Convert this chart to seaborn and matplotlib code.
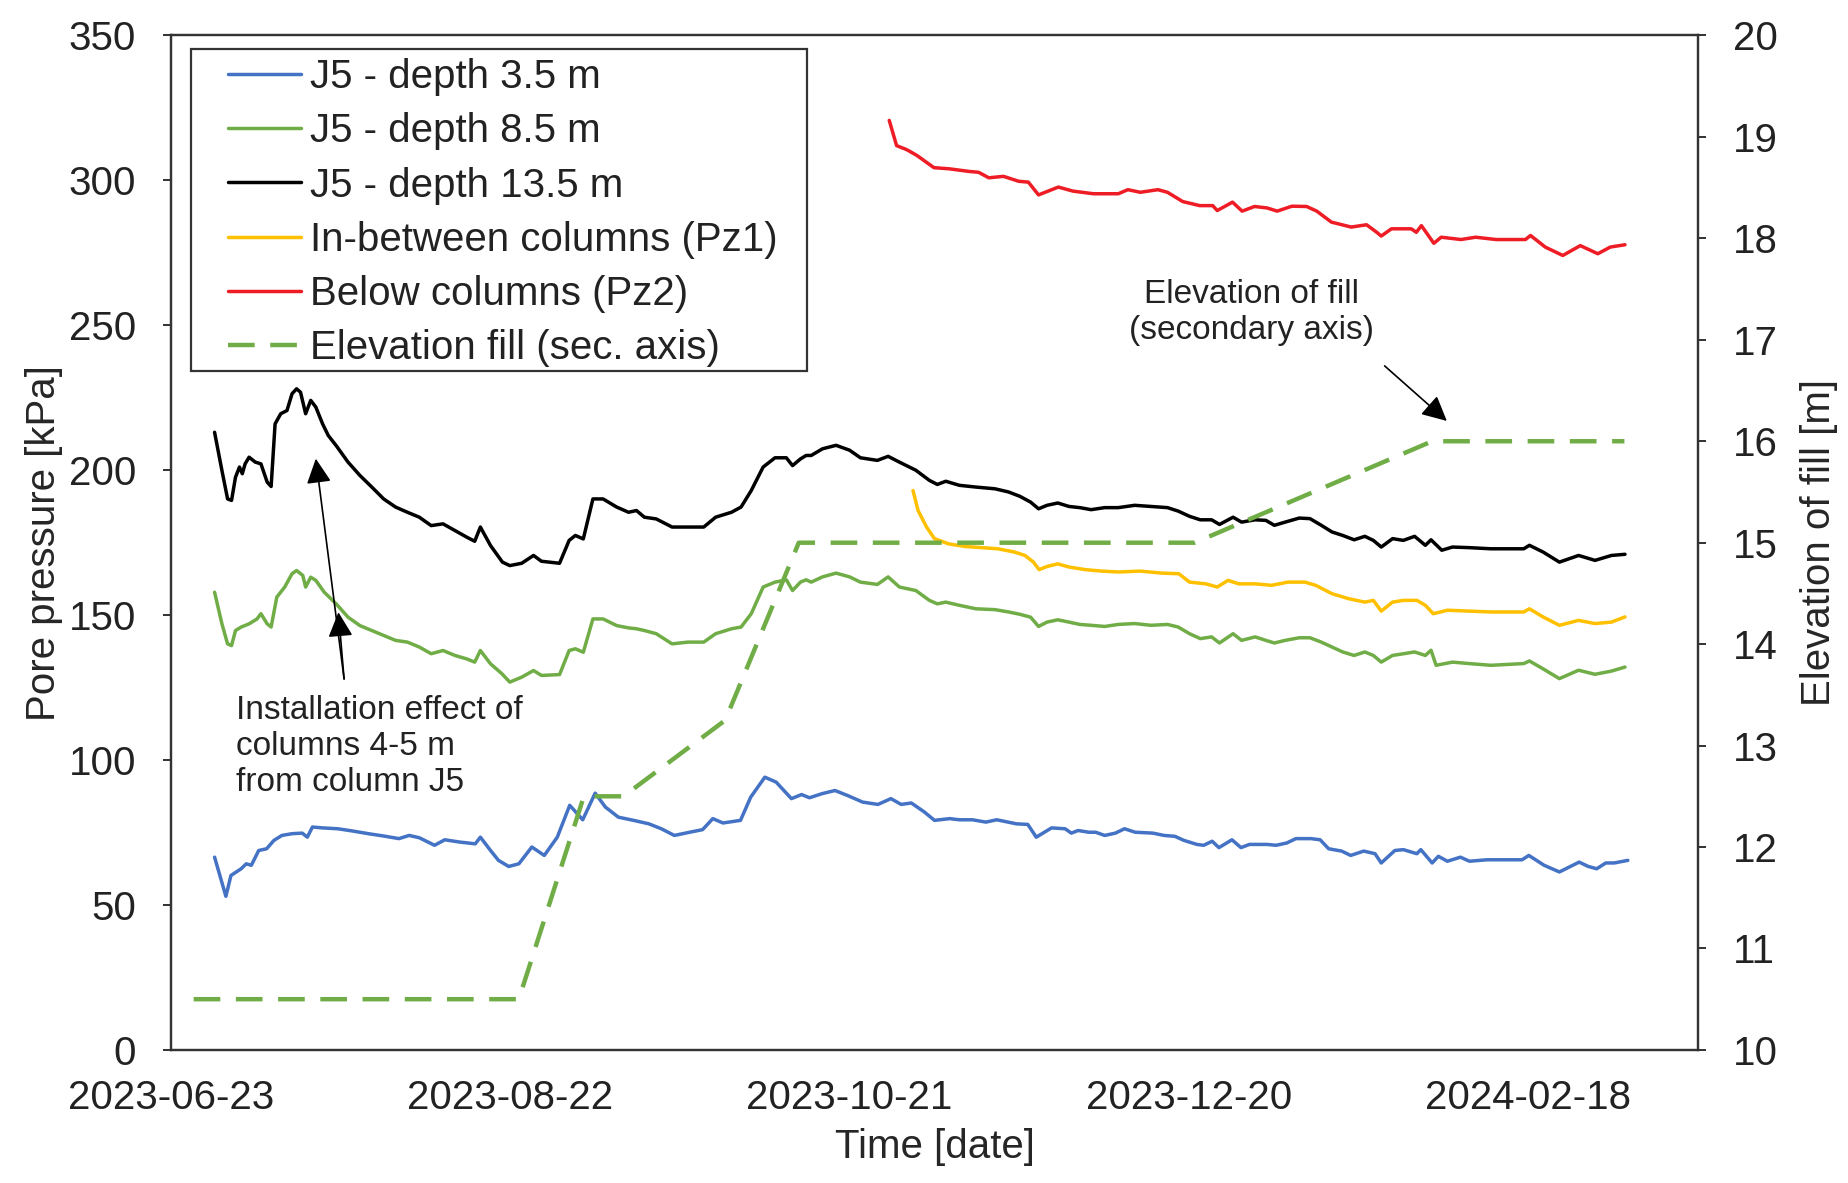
import numpy as np
import pandas as pd
import matplotlib
matplotlib.use("Agg")
import matplotlib.pyplot as plt
import matplotlib.dates as mdates
from matplotlib.lines import Line2D
from matplotlib.patches import Rectangle
import seaborn as sns

# ---- data -------------------------------------------------------------
start_date = pd.Timestamp("2023-06-23")

# J5 - depth 13.5 m (days since start, kPa)
j5_135_days = [7.7, 9.0, 10.0, 10.7, 11.4, 12.1, 12.6, 13.1, 13.8, 14.9, 15.9, 17.0, 17.7,
               18.4, 19.4, 20.5, 21.4, 22.2, 22.9, 23.8, 24.7, 25.6, 26.8, 27.8, 29.2, 31.3,
               33.4, 35.5, 37.6, 39.7, 41.8, 43.9, 46.0, 48.1, 50.2, 52.3, 53.7, 54.7, 56.5,
               58.6, 59.9, 62.0, 64.1, 65.5, 68.7, 70.4, 71.5, 72.9, 74.6, 76.4, 78.8, 80.9,
               82.3, 83.7, 85.8, 88.6, 91.4, 94.2, 96.3, 99.1, 100.8, 102.6, 104.7, 106.8,
               108.8, 109.9, 111.3, 112.3,
               113.2, 115.2, 117.6, 120.0, 121.9, 124.9, 126.8, 128.8, 131.7, 134.1, 135.5,
               137.0, 139.4, 142.3, 145.7, 148.1, 150.1, 152.0, 153.4, 154.9, 156.8, 158.8,
               160.7, 162.7, 165.1, 167.5, 170.4, 173.3, 176.2, 178.1, 180.1, 182.0, 184.0,
               185.4, 187.8, 189.3, 191.7, 193.6, 195.1, 197.0, 199.5, 201.4, 203.4, 205.3,
               207.2, 209.2, 211.1, 212.6, 214.0, 216.0, 217.9, 219.9, 221.8, 222.8, 224.7,
               226.6, 229.5, 233.4, 239.2, 240.2, 242.6, 245.5, 248.9, 251.8, 254.7, 257.1]
j5_135_kpa = [213.1, 199.9, 190.1, 189.6, 197.6, 201.1, 198.8, 202.2, 204.5, 202.8, 202.2, 195.9, 194.4,
              216.0, 219.5, 220.6, 226.4, 228.1, 226.9, 219.5, 224.1, 221.8, 216.0, 212.0, 208.5, 202.8,
              198.2, 194.2, 190.1, 187.3, 185.5, 183.8, 180.9, 181.5, 179.2, 176.9, 175.5, 180.4, 174.0,
              168.3, 167.1, 167.9, 170.6, 168.6, 167.9, 175.8, 177.5, 176.3, 190.1, 190.1, 187.3, 185.5,
              186.1, 183.8, 183.2, 180.4, 180.4, 180.4, 183.8, 185.5, 187.3, 193.0, 201.1, 204.3,
              204.3, 201.6, 203.9, 205.1,
              205.1, 207.4, 208.6, 206.9, 204.3, 203.4, 204.8, 202.8, 200.0, 196.5, 195.1,
              196.2, 194.8, 194.2, 193.6, 192.5, 191.0, 189.0, 186.7, 187.9, 188.7, 187.5,
              187.1, 186.4, 187.1, 187.1, 187.9, 187.5, 187.1, 185.9, 184.1, 182.9, 182.9,
              181.3, 183.8, 182.1, 182.9, 182.7, 181.0, 182.1, 183.5, 183.3, 181.0, 178.7,
              177.5, 176.0, 177.2, 175.8, 173.5, 176.4, 175.8, 177.2, 174.1, 176.0, 172.4,
              173.5, 173.3, 172.9, 172.9, 174.1, 171.8, 168.3, 170.6, 168.9, 170.6, 171.0]

# J5 - depth 8.5 m
j5_85_days = [7.7, 9.0, 10.0, 10.7, 11.4, 12.4, 13.8, 15.2, 15.9, 17.0, 17.7, 18.7, 20.1, 21.4,
              22.2, 23.3, 23.8, 24.7, 25.6, 27.1, 29.2, 31.3, 33.4, 35.5, 37.6, 39.7, 41.8, 43.9,
              46.0, 48.1, 50.2, 52.3, 53.7, 54.7, 56.5, 58.5, 59.9, 62.0, 64.1, 65.5, 68.7, 70.4,
              71.5, 72.9, 74.6, 76.4, 78.8, 80.9, 82.3, 83.7, 85.8, 88.6, 91.4, 94.2, 96.3, 99.1,
              100.8, 102.6, 104.7, 106.8, 108.8, 109.9, 111.3, 112.3,
              113.2, 115.2, 117.6, 120.0, 121.9, 124.9, 126.8, 128.8, 131.7, 134.1, 135.5,
              137.0, 139.4, 142.3, 145.7, 148.1, 150.1, 152.0, 153.4, 154.9, 156.8, 158.8,
              160.7, 162.7, 165.1, 167.5, 170.4, 173.3, 176.2, 178.1, 180.1, 182.0, 184.0,
              185.4, 187.8, 189.3, 191.7, 193.6, 195.1, 197.0, 199.5, 201.4, 203.4, 205.3,
              207.2, 209.2, 211.1, 212.6, 214.0, 216.0, 217.9, 219.9, 221.8, 222.8, 223.7,
              226.6, 229.5, 233.4, 239.2, 240.2, 242.6, 245.5, 248.9, 251.8, 254.7, 257.1]
j5_85_kpa = [157.9, 147.0, 140.1, 139.5, 144.7, 145.9, 147.0, 148.7, 150.5, 147.0, 145.9, 156.2, 159.7, 164.3,
             165.4, 163.7, 159.7, 163.1, 162.0, 157.9, 153.9, 149.3, 146.4, 144.7, 143.0, 141.3, 140.7, 139.0,
             136.7, 137.8, 136.1, 134.9, 133.8, 137.8, 133.2, 129.8, 126.9, 128.6, 130.9, 129.2, 129.5, 137.8,
             138.4, 137.2, 148.7, 148.7, 146.4, 145.6, 145.3, 144.7, 143.6, 140.1, 140.7, 140.7, 143.6, 145.3,
             145.9, 150.5, 159.7, 161.4, 162.2, 158.5, 161.4, 162.2,
             161.4, 163.2, 164.5, 163.2, 161.4, 160.6, 163.2, 159.7, 158.5, 155.1, 153.9,
             154.5, 153.4, 152.2, 151.9, 151.1, 150.3, 149.3, 146.1, 147.6, 148.4, 147.6,
             146.8, 146.5, 146.1, 146.8, 147.1, 146.5, 146.8, 145.9, 143.6, 141.9, 142.5,
             140.4, 143.6, 141.3, 142.5, 141.3, 140.4, 141.3, 142.2, 142.2, 140.7, 139.0,
             137.3, 136.1, 137.3, 136.1, 133.8, 136.1, 136.7, 137.3, 136.1, 137.9, 132.7,
             133.8, 133.3, 132.7, 133.3, 134.2, 131.5, 128.1, 131.0, 129.6, 130.7, 132.1]

# J5 - depth 3.5 m
j5_35_days = [7.7, 9.7, 10.6, 12.4, 13.3, 14.2, 15.5, 16.9, 18.2, 19.6, 21.4, 23.2, 24.1, 25.0,
              26.8, 29.5, 32.2, 34.9, 37.6, 40.3, 42.1, 43.9, 46.6, 48.4, 51.1, 53.8, 54.7, 56.5,
              57.9, 59.7, 61.5, 63.8, 66.0, 68.3, 70.5, 72.8, 75.0, 76.8, 79.1, 81.8, 84.5, 86.7,
              89.0, 91.7, 94.0, 95.8, 97.6, 100.7, 102.5, 105.0, 107.0, 109.7, 111.5, 112.9,
              115.1, 117.4, 119.6, 122.3, 125.0, 127.3, 129.1, 130.9, 133.2, 135.0, 137.7,
              139.4, 141.7, 144.1, 146.0, 148.0, 149.5, 151.5, 153.0, 155.7, 158.1, 159.2,
              160.4, 162.3, 163.5, 165.1, 167.0, 168.6, 170.5, 173.6, 175.6, 177.5, 179.1,
              181.4, 182.6, 184.1, 185.3, 187.6, 189.2, 190.7, 193.8, 195.4, 197.3, 198.9,
              201.6, 203.2, 204.7, 207.0, 208.6, 210.9, 212.9, 214.0, 216.4, 217.9, 220.3,
              221.0, 223.0, 224.1, 225.7, 228.0, 229.6, 232.7, 236.6, 238.9, 240.1, 242.8,
              245.5, 249.0, 250.6, 252.1, 253.7, 255.2, 257.6]
j5_35_kpa = [66.5, 53.0, 60.2, 62.5, 64.2, 63.7, 68.8, 69.4, 72.3, 74.0, 74.6, 74.8, 73.4, 76.9,
             76.6, 76.3, 75.5, 74.6, 73.8, 72.9, 74.0, 73.2, 70.6, 72.5, 71.7, 71.1, 73.4, 68.8,
             65.4, 63.3, 64.2, 70.0, 67.1, 73.4, 84.4, 79.4, 88.6, 83.8, 80.3, 79.2, 78.0, 76.3,
             74.0, 75.1, 76.0, 79.8, 78.3, 79.2, 87.2, 94.1, 92.4, 86.7, 88.1, 87.0,
             88.4, 89.5, 87.8, 85.5, 84.7, 86.7, 84.7, 85.2, 82.1, 79.2, 79.8,
             79.4, 79.4, 78.6, 79.4, 78.6, 78.0, 77.8, 73.4, 76.6, 76.3, 74.8,
             75.7, 75.1, 75.1, 74.0, 74.8, 76.3, 75.1, 74.8, 74.0, 73.7, 72.3,
             70.9, 70.6, 72.0, 69.8, 72.5, 69.8, 70.9, 70.9, 70.6, 71.4, 72.9,
             72.9, 72.5, 69.4, 68.6, 67.1, 68.6, 67.7, 64.5, 68.8, 69.1, 67.7,
             69.1, 64.5, 66.8, 65.1, 66.5, 65.1, 65.6, 65.6, 65.6, 67.1, 63.7,
             61.4, 64.8, 63.3, 62.5, 64.5, 64.5, 65.4]

# In-between columns (Pz1)
pz1_days = [131.2, 132.1, 133.6, 135.0, 137.5, 140.4, 143.3, 146.2, 149.1, 151.0, 152.5, 153.5,
            154.9, 156.8, 158.8, 161.7, 164.6, 167.5, 171.4, 175.3, 178.2, 180.1, 183.0, 185.0,
            186.9, 188.8, 191.7, 194.6, 197.5, 200.5, 202.4, 205.3, 208.2, 211.1, 212.6, 214.0,
            216.0, 217.9, 220.3, 221.8, 223.2, 225.7, 229.5, 233.4, 239.2, 240.2, 242.6, 245.5,
            248.9, 251.8, 254.7, 257.1]
pz1_kpa = [193.0, 186.1, 180.4, 176.4, 174.6, 173.7, 173.3, 172.9, 171.8, 170.6, 168.3, 165.7,
           166.8, 167.7, 166.6, 165.7, 165.2, 164.9, 165.2, 164.5, 164.3, 161.4, 160.8, 159.7,
           162.0, 160.8, 160.8, 160.3, 161.4, 161.4, 160.3, 157.4, 155.7, 154.5, 155.1, 151.4,
           154.5, 155.1, 155.1, 153.4, 150.5, 151.7, 151.4, 151.1, 151.1, 152.2, 149.4, 146.5,
           148.2, 147.1, 147.6, 149.4]

# Below columns (Pz2)
pz2_days = [127.0, 128.3, 130.1, 131.9, 134.9, 137.6, 141.1, 142.8, 144.6, 147.2, 149.9, 151.6,
            153.4, 156.9, 159.5, 163.1, 167.5, 169.2, 171.4, 174.5, 176.2, 178.9, 181.9, 184.2,
            185.0, 187.7, 189.4, 191.6, 193.8, 195.6, 198.2, 200.8, 202.6, 205.2, 208.7, 211.4,
            213.2, 214.0, 215.8, 219.3, 220.2, 221.1, 223.3, 224.6, 228.1, 230.7, 234.3, 239.5,
            240.4, 243.0, 246.1, 249.2, 252.3, 254.5, 257.1]
pz2_kpa = [320.7, 312.0, 310.6, 308.6, 304.4, 304.0, 303.1, 302.8, 300.9, 301.4, 299.7, 299.4,
           295.0, 297.7, 296.3, 295.4, 295.4, 296.8, 295.9, 296.8, 295.9, 292.7, 291.3, 291.3,
           289.6, 292.5, 289.4, 291.0, 290.5, 289.4, 291.1, 291.0, 289.4, 285.6, 283.9, 284.7,
           282.1, 280.8, 283.3, 283.3, 282.1, 284.4, 278.3, 280.4, 279.6, 280.4, 279.6, 279.6,
           281.0, 277.0, 274.1, 277.5, 274.7, 277.0, 277.8]

# Elevation of fill (m), secondary axis
fill_days = [4, 61.5, 73, 80, 98, 111, 181, 223, 257]
fill_elev = [10.5, 10.5, 12.5, 12.5, 13.25, 15.0, 15.0, 16.0, 16.0]

x_ticks = ["2023-06-23", "2023-08-22", "2023-10-21", "2023-12-20", "2024-02-18"]

series_names = ["J5 - depth 3.5 m", "J5 - depth 8.5 m", "J5 - depth 13.5 m",
                "In-between columns (Pz1)", "Below columns (Pz2)"]
fill_name = "Elevation fill (sec. axis)"

colors = {
    "J5 - depth 3.5 m": "#4472C4",
    "J5 - depth 8.5 m": "#70AD47",
    "J5 - depth 13.5 m": "#000000",
    "In-between columns (Pz1)": "#FFC000",
    "Below columns (Pz2)": "#EE1C25",
}
fill_color = "#70AD47"


def to_dates(days):
    return start_date + pd.to_timedelta(np.asarray(days, dtype=float), unit="D")


frames = []
for name, d, v in [(series_names[0], j5_35_days, j5_35_kpa),
                   (series_names[1], j5_85_days, j5_85_kpa),
                   (series_names[2], j5_135_days, j5_135_kpa),
                   (series_names[3], pz1_days, pz1_kpa),
                   (series_names[4], pz2_days, pz2_kpa)]:
    frames.append(pd.DataFrame({"date": to_dates(d), "kpa": v, "series": name}))
pressure = pd.concat(frames, ignore_index=True)
fill_df = pd.DataFrame({"date": to_dates(fill_days), "elev": fill_elev})

# ---- figure -----------------------------------------------------------
sns.set_theme(style="white")
plt.rcParams["font.family"] = ["Liberation Sans", "DejaVu Sans"]
plt.rcParams["text.color"] = "#222222"

fig = plt.figure(figsize=(18.49, 11.83), dpi=100)
ax = fig.add_axes([0.0925, 0.1125, 0.8258, 0.8575])

line_w = 2.5
sns.lineplot(data=pressure, x="date", y="kpa", hue="series",
             hue_order=series_names, palette=colors, linewidth=line_w,
             ax=ax, legend=False, estimator=None, sort=True)

ax2 = ax.twinx()
sns.lineplot(data=fill_df, x="date", y="elev", color=fill_color, linewidth=3.2,
             ax=ax2, legend=False, estimator=None)
ax2.lines[0].set_dashes((6, 3.5))

# axes limits and ticks
ax.set_xlim(start_date, start_date + pd.Timedelta(days=270))
ax.set_ylim(0, 350)
ax.set_yticks(range(0, 351, 50))
ax2.set_ylim(10, 20)
ax2.set_yticks(range(10, 21, 1))
ax.set_xticks(pd.to_datetime(x_ticks))
ax.xaxis.set_major_formatter(mdates.DateFormatter("%Y-%m-%d"))

fs = 29
ax.tick_params(axis="x", direction="in", length=10, width=1.3, labelsize=fs,
               pad=21, colors="#222222")
ax.tick_params(axis="y", direction="out", length=6, width=1.3, labelsize=fs,
               pad=19, colors="#222222")
ax2.tick_params(axis="y", direction="out", length=6, width=1.3, labelsize=fs,
                pad=19, colors="#222222")

for a in (ax, ax2):
    for s in a.spines.values():
        s.set_color("#333333")
        s.set_linewidth(1.6)
        s.set_visible(True)

ax.set_xlabel("Time [date]", fontsize=fs, labelpad=8)
ax.set_ylabel("Pore pressure [kPa]", fontsize=fs, labelpad=4)
ax2.set_ylabel("Elevation of fill [m]", fontsize=fs, labelpad=16)

# legend with a square frame
box_x0, box_x1, box_y0, box_y1 = 0.1033, 0.4365, 0.6864, 0.9582
frame = Rectangle((box_x0, box_y0), box_x1 - box_x0, box_y1 - box_y0,
                  transform=fig.transFigure, facecolor="white",
                  edgecolor="#333333", linewidth=1.6, zorder=9, clip_on=False)
ax2.add_patch(frame)

handles = [Line2D([0], [0], color=colors[n], lw=line_w) for n in series_names]
fill_handle = Line2D([0], [0], color=fill_color, lw=3.2)
fill_handle.set_dashes((6, 3.5))
handles.append(fill_handle)
leg = ax2.legend(handles, series_names + [fill_name], loc="center",
                 bbox_to_anchor=((box_x0 + box_x1) / 2 + 0.002,
                                 (box_y0 + box_y1) / 2 - 0.002),
                 bbox_transform=fig.transFigure, fontsize=fs, frameon=False,
                 handlelength=1.8, handletextpad=0.23, labelspacing=0.40,
                 borderpad=0.0)
leg.set_zorder(10)

# annotations
arrow = dict(arrowstyle="-|>", color="black", lw=1.2, mutation_scale=38,
             shrinkA=0, shrinkB=0)
src = (start_date + pd.Timedelta(days=30.6), 128)
ax.annotate("", xy=(start_date + pd.Timedelta(days=25.6), 204), xytext=src,
            arrowprops=arrow)
ax.annotate("", xy=(start_date + pd.Timedelta(days=29.6), 151), xytext=src,
            arrowprops=arrow)
ax.text(start_date + pd.Timedelta(days=11.5), 122.5,
        "Installation effect of\ncolumns 4-5 m\nfrom column J5",
        fontsize=24, va="top", ha="left", linespacing=1.22, color="#222222")

ax.annotate("", xy=(start_date + pd.Timedelta(days=225.6), 217),
            xytext=(start_date + pd.Timedelta(days=214.6), 236),
            arrowprops=arrow)
ax.text(start_date + pd.Timedelta(days=191), 266,
        "Elevation of fill\n(secondary axis)",
        fontsize=24, va="top", ha="center", linespacing=1.22, color="#222222")

fig.savefig("out.png", dpi=100)
